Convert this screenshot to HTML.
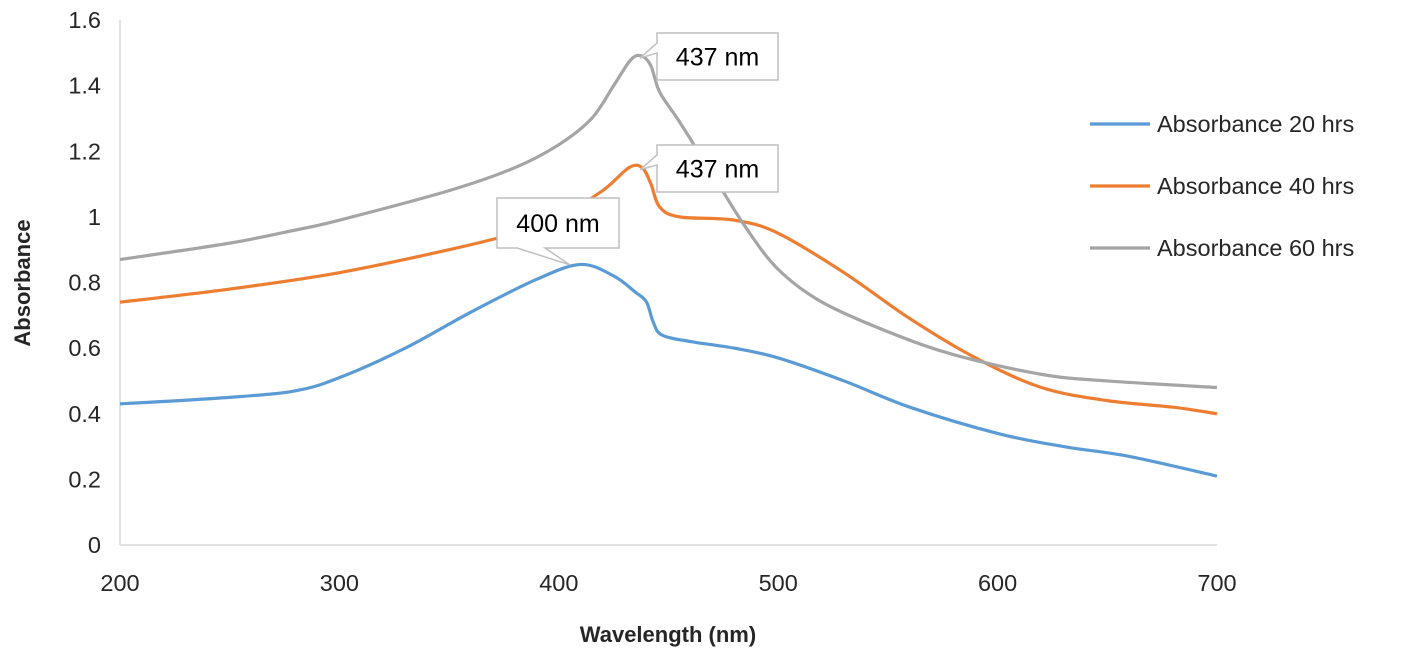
<!DOCTYPE html>
<html><head><meta charset="utf-8"><style>
body{margin:0;background:#fff;font-family:"Liberation Sans",sans-serif}
svg text{font-family:"Liberation Sans",sans-serif}
</style></head><body>
<svg id="c" width="1417" height="659" viewBox="0 0 1417 659"></svg>
<script>
const yTicks=[0,0.2,0.4,0.6,0.8,1,1.2,1.4,1.6];
const xTicks=[200,300,400,500,600,700];
const blueX=[200,250,280,300,330,360,390,410,425,435,440,443,447,460,480,500,530,560,600,630,660,700];
const blueY=[0.43,0.45,0.47,0.51,0.6,0.71,0.81,0.855,0.82,0.77,0.74,0.68,0.64,0.62,0.6,0.57,0.5,0.42,0.34,0.3,0.27,0.21];
const orangeX=[200,250,300,350,380,400,420,432,438,442,446,455,480,500,530,560,590,620,650,680,700];
const orangeY=[0.74,0.78,0.83,0.9,0.95,1.0,1.08,1.15,1.15,1.1,1.03,1.0,0.99,0.95,0.83,0.69,0.57,0.48,0.44,0.42,0.40];
const grayX=[200,250,280,300,350,380,400,415,425,433,438,442,446,455,470,485,500,520,550,580,620,650,700];
const grayY=[0.87,0.92,0.96,0.99,1.08,1.15,1.22,1.3,1.4,1.48,1.49,1.46,1.38,1.29,1.13,0.97,0.84,0.74,0.65,0.58,0.52,0.5,0.48];
const seriesNames=["Absorbance 20 hrs","Absorbance 40 hrs","Absorbance 60 hrs"];
const colors=["#5b9bd5","#ed7d31","#a5a5a5"];

const X=v=>120+(v-200)*(1217-120)/500;
const Y=a=>545-a*(525/1.6);
const svg=document.getElementById('c');
const NS='http://www.w3.org/2000/svg';
function mk(t,a,p){const e=document.createElementNS(NS,t);for(const k in a)e.setAttribute(k,a[k]);(p||svg).appendChild(e);return e;}

let e=mk('line',{x1:120,y1:20,x2:120,y2:545,stroke:'#d9d9d9','stroke-width':1.5});


e=mk('line',{x1:120,y1:545,x2:1217,y2:545,stroke:'#d9d9d9','stroke-width':1.5});



yTicks.forEach(t=>{const l=mk('text',{x:101,y:Y(t)+8,'text-anchor':'end','font-size':23.5,fill:'#262626'});l.textContent=String(t);

});
xTicks.forEach(t=>{const l=mk('text',{x:X(t),y:591,'text-anchor':'middle','font-size':23.5,fill:'#262626'});l.textContent=String(t);

});

e=mk('text',{x:668,y:642,'text-anchor':'middle','font-size':22,'font-weight':'bold',fill:'#262626'});e.textContent='Wavelength (nm)';


e=mk('text',{x:0,y:0,'text-anchor':'middle','font-size':22,'font-weight':'bold',fill:'#262626',transform:'translate(30,283) rotate(-90)'});e.textContent='Absorbance';



function path(xs,ys){const p=xs.map((x,i)=>[X(x),Y(ys[i])]);let d='M'+p[0][0]+','+p[0][1];
for(let i=0;i<p.length-1;i++){const p0=p[i-1]||p[i],p1=p[i],p2=p[i+1],p3=p[i+2]||p2;
const c1=[p1[0]+(p2[0]-p0[0])/6,p1[1]+(p2[1]-p0[1])/6],c2=[p2[0]-(p3[0]-p1[0])/6,p2[1]-(p3[1]-p1[1])/6];
d+=' C'+c1+' '+c2+' '+p2;}return d;}
const data=[[blueX,blueY],[orangeX,orangeY],[grayX,grayY]];
const names=['series-20-hrs','series-40-hrs','series-60-hrs'];
data.forEach((s,i)=>{const l=mk('path',{d:path(s[0],s[1]),fill:'none',stroke:colors[i],'stroke-width':3.2});

});

// legend
seriesNames.forEach((n,i)=>{const y=124+i*62;const g=mk('g',{});


mk('line',{x1:1090,y1:y,x2:1150,y2:y,stroke:colors[i],'stroke-width':3.2},g);
const t=mk('text',{x:1157,y:y+8,'font-size':23.5,fill:'#262626'},g);t.textContent=n;});

// callouts
function callout(bx,by,w,h,tx,ty,label,tipSide){const g=mk('g',{});


let pts;
if(tipSide==='left')pts=`${bx},${by} ${bx+w},${by} ${bx+w},${by+h} ${bx},${by+h} ${bx},${by+20} ${tx},${ty} ${bx},${by+10}`;
else pts=`${bx},${by} ${bx+w},${by} ${bx+w},${by+h} ${bx+48},${by+h} ${tx},${ty} ${bx+20},${by+h} ${bx},${by+h}`;
mk('polygon',{points:pts,fill:'#fff',stroke:'#bfbfbf','stroke-width':1.5},g);
const t=mk('text',{x:bx+w/2,y:by+h/2+9,'text-anchor':'middle','font-size':25,fill:'#000'},g);t.textContent=label;}
callout(657,33,121,47,X(437),Y(1.49)+2,'437 nm','left');
callout(657,145,121,47,X(437),Y(1.15)+2,'437 nm','left');
callout(497,198,122,50,X(405),Y(0.86)+2,'400 nm','bottom');
</script>
</body></html>
